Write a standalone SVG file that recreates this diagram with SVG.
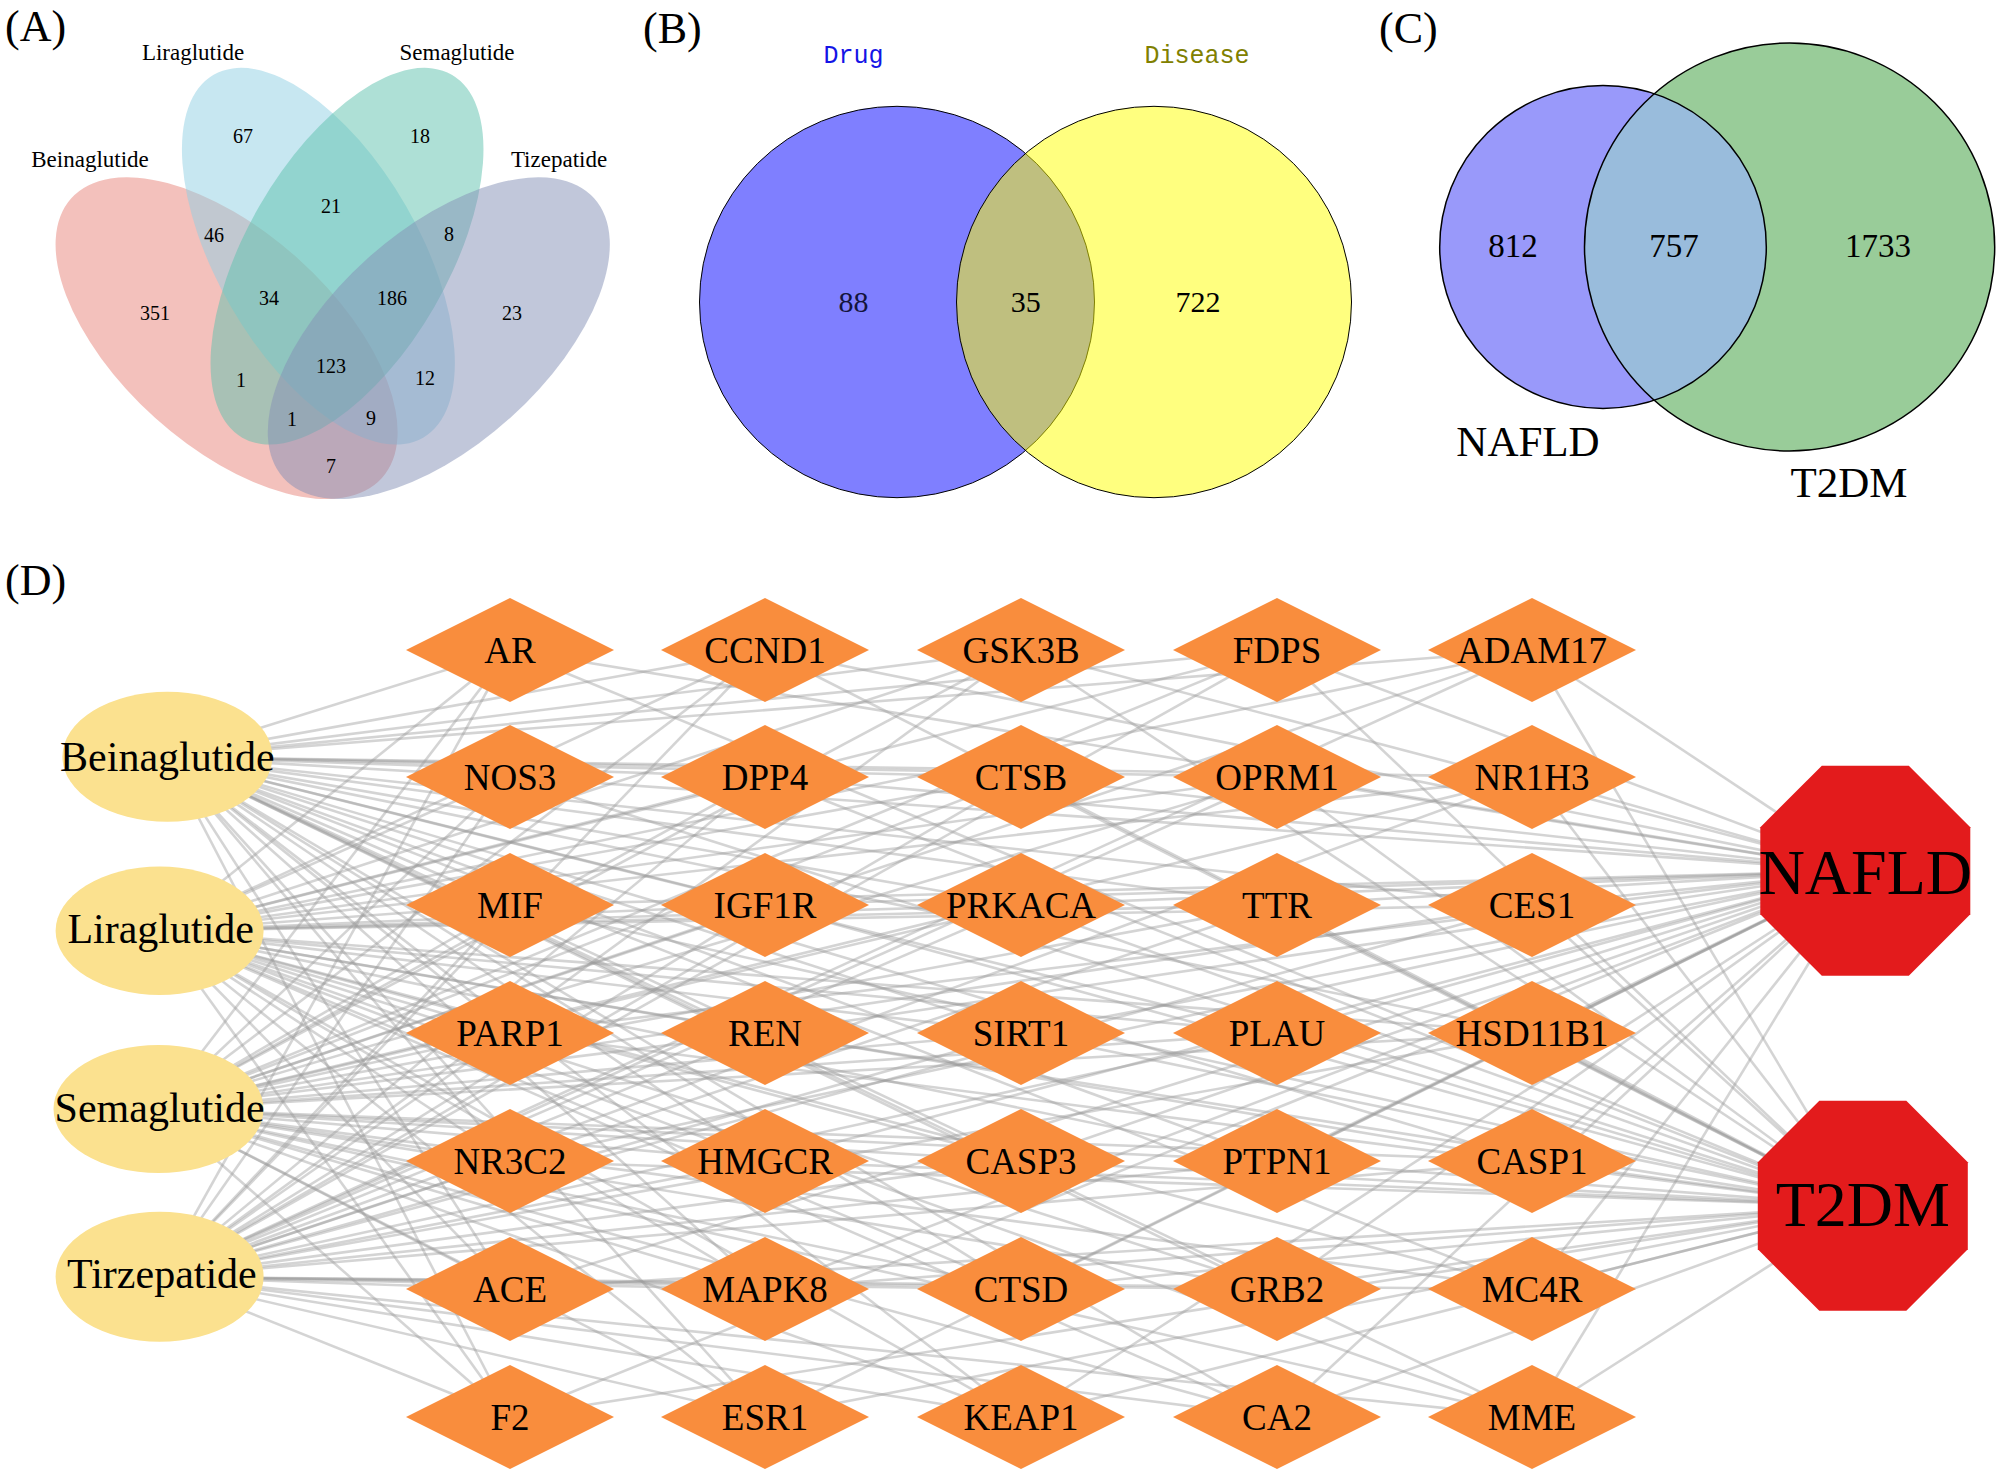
<svg xmlns="http://www.w3.org/2000/svg" width="2000" height="1475" viewBox="0 0 2000 1475">
<style>
text{font-family:"Liberation Serif","Times New Roman",serif;fill:#000}
.pl{font-size:44px}
.va{font-size:20px;text-anchor:middle}
.vl{font-size:23px;text-anchor:middle}
.bn{font-size:30px;text-anchor:middle}
.bl{font-family:"Liberation Mono","DejaVu Sans Mono",monospace;font-size:25px;text-anchor:middle}
.cn{font-size:33px;text-anchor:middle}
.cl{font-size:43px;text-anchor:middle}
.dia{fill:#F98D3D}
.dl{font-size:37px;text-anchor:middle}
.drug{fill:#FBE18F}
.drl{font-size:42px;text-anchor:middle}
.oct{fill:#E31B1C}
.ocl{font-size:64px;text-anchor:middle}
#edges line{stroke:#999;stroke-opacity:0.42;stroke-width:2.6}
</style>
<defs>
<polygon id="dmd" points="-104,0 0,-52 104,0 0,52"/>
<polygon id="octg" points="105,43.5 43.5,105 -43.5,105 -105,43.5 -105,-43.5 -43.5,-105 43.5,-105 105,-43.5"/>
<clipPath id="clipN"><ellipse cx="1603" cy="247" rx="163.3" ry="161.5"/></clipPath>
</defs>
<rect width="2000" height="1475" fill="#fff"/>

<!-- Panel A -->
<g id="panelA">
<text class="pl" x="5" y="41">(A)</text>
<g id="vennA">
<ellipse id="setBeinaglutide" cx="226.6" cy="338.2" rx="209" ry="107" transform="rotate(42 226.6 338.2)" fill="#E8837A" fill-opacity="0.5"/>
<ellipse id="setLiraglutide" cx="318.4" cy="256.2" rx="209.5" ry="101" transform="rotate(60 318.4 256.2)" fill="#8FD0E4" fill-opacity="0.5"/>
<ellipse id="setSemaglutide" cx="347" cy="256.2" rx="209.5" ry="101" transform="rotate(-60 347 256.2)" fill="#5EC2AE" fill-opacity="0.5"/>
<ellipse id="setTizepatide" cx="438.8" cy="338.2" rx="209" ry="107" transform="rotate(-42 438.8 338.2)" fill="#8390B6" fill-opacity="0.5"/>
</g>
<text class="vl" x="193" y="60">Liraglutide</text>
<text class="vl" x="457" y="60">Semaglutide</text>
<text class="vl" x="90" y="167">Beinaglutide</text>
<text class="vl" x="559" y="167">Tizepatide</text>
<text class="va" x="243" y="143">67</text>
<text class="va" x="420" y="143">18</text>
<text class="va" x="331" y="213">21</text>
<text class="va" x="214" y="242">46</text>
<text class="va" x="449" y="241">8</text>
<text class="va" x="269" y="305">34</text>
<text class="va" x="392" y="305">186</text>
<text class="va" x="155" y="320">351</text>
<text class="va" x="512" y="320">23</text>
<text class="va" x="331" y="373">123</text>
<text class="va" x="241" y="387">1</text>
<text class="va" x="425" y="385">12</text>
<text class="va" x="292" y="426">1</text>
<text class="va" x="371" y="425">9</text>
<text class="va" x="331" y="473">7</text>
</g>

<!-- Panel B -->
<g id="panelB">
<text class="pl" x="643" y="43">(B)</text>
<text class="bl" x="853.5" y="63" fill="#1010E0" style="fill:#1414E6">Drug</text>
<text class="bl" x="1197" y="63" style="fill:#808000">Disease</text>
<ellipse id="setDrug" cx="897" cy="302" rx="197.5" ry="195.7" fill="#0000FF" fill-opacity="0.5" stroke="#000" stroke-width="1"/>
<ellipse id="setDisease" cx="1154" cy="302" rx="197.5" ry="195.7" fill="#FFFF00" fill-opacity="0.5" stroke="#000" stroke-width="1"/>
<text class="bn" x="853.5" y="312" style="fill:#14143C">88</text>
<text class="bn" x="1025.7" y="312">35</text>
<text class="bn" x="1198" y="312">722</text>
</g>

<!-- Panel C -->
<g id="panelC">
<text class="pl" x="1379" y="43">(C)</text>
<ellipse cx="1789.6" cy="247" rx="205.1" ry="204" fill="#99CC99"/>
<ellipse cx="1603" cy="247" rx="163.3" ry="161.5" fill="#9999FA"/>
<ellipse cx="1789.6" cy="247" rx="205.1" ry="204" fill="#99BCDC" clip-path="url(#clipN)"/>
<ellipse id="setNAFLD" cx="1603" cy="247" rx="163.3" ry="161.5" fill="none" stroke="#000" stroke-width="1.5"/>
<ellipse id="setT2DM" cx="1789.6" cy="247" rx="205.1" ry="204" fill="none" stroke="#000" stroke-width="1.5"/>
<text class="cn" x="1513" y="257">812</text>
<text class="cn" x="1674" y="257">757</text>
<text class="cn" x="1878" y="257">1733</text>
<text class="cl" x="1528" y="456">NAFLD</text>
<text class="cl" x="1849" y="497">T2DM</text>
</g>

<!-- Panel D -->
<text class="pl" x="5" y="595">(D)</text>
<g id="edges">
<line x1="167" y1="757" x2="510" y2="650"/><line x1="167" y1="757" x2="765" y2="650"/><line x1="167" y1="757" x2="1021" y2="650"/><line x1="167" y1="757" x2="1277" y2="650"/><line x1="167" y1="757" x2="1532" y2="650"/>
<line x1="167" y1="757" x2="510" y2="777"/><line x1="167" y1="757" x2="765" y2="777"/><line x1="167" y1="757" x2="1021" y2="777"/><line x1="167" y1="757" x2="1277" y2="777"/><line x1="167" y1="757" x2="1532" y2="777"/>
<line x1="167" y1="757" x2="510" y2="905"/><line x1="167" y1="757" x2="765" y2="905"/><line x1="167" y1="757" x2="1021" y2="905"/><line x1="167" y1="757" x2="1277" y2="905"/><line x1="167" y1="757" x2="1532" y2="905"/>
<line x1="167" y1="757" x2="510" y2="1033"/><line x1="167" y1="757" x2="765" y2="1033"/><line x1="167" y1="757" x2="1021" y2="1033"/><line x1="167" y1="757" x2="1277" y2="1033"/><line x1="167" y1="757" x2="1532" y2="1033"/>
<line x1="167" y1="757" x2="510" y2="1161"/><line x1="167" y1="757" x2="765" y2="1161"/><line x1="167" y1="757" x2="1021" y2="1161"/><line x1="167" y1="757" x2="1277" y2="1161"/><line x1="167" y1="757" x2="1532" y2="1161"/>
<line x1="167" y1="757" x2="510" y2="1289"/><line x1="167" y1="757" x2="765" y2="1289"/><line x1="167" y1="757" x2="1021" y2="1289"/><line x1="167" y1="757" x2="1277" y2="1289"/><line x1="167" y1="757" x2="1532" y2="1289"/>
<line x1="167" y1="757" x2="510" y2="1417"/><line x1="167" y1="757" x2="765" y2="1417"/><line x1="167" y1="757" x2="1021" y2="1417"/><line x1="167" y1="757" x2="1277" y2="1417"/><line x1="167" y1="757" x2="1532" y2="1417"/>

<line x1="160" y1="931" x2="510" y2="650"/><line x1="160" y1="931" x2="765" y2="650"/><line x1="160" y1="931" x2="1021" y2="650"/><line x1="160" y1="931" x2="1277" y2="650"/><line x1="160" y1="931" x2="1532" y2="650"/>
<line x1="160" y1="931" x2="510" y2="777"/><line x1="160" y1="931" x2="765" y2="777"/><line x1="160" y1="931" x2="1021" y2="777"/><line x1="160" y1="931" x2="1277" y2="777"/><line x1="160" y1="931" x2="1532" y2="777"/>
<line x1="160" y1="931" x2="510" y2="905"/><line x1="160" y1="931" x2="765" y2="905"/><line x1="160" y1="931" x2="1021" y2="905"/><line x1="160" y1="931" x2="1277" y2="905"/><line x1="160" y1="931" x2="1532" y2="905"/>
<line x1="160" y1="931" x2="510" y2="1033"/><line x1="160" y1="931" x2="765" y2="1033"/><line x1="160" y1="931" x2="1021" y2="1033"/><line x1="160" y1="931" x2="1277" y2="1033"/><line x1="160" y1="931" x2="1532" y2="1033"/>
<line x1="160" y1="931" x2="510" y2="1161"/><line x1="160" y1="931" x2="765" y2="1161"/><line x1="160" y1="931" x2="1021" y2="1161"/><line x1="160" y1="931" x2="1277" y2="1161"/><line x1="160" y1="931" x2="1532" y2="1161"/>
<line x1="160" y1="931" x2="510" y2="1289"/><line x1="160" y1="931" x2="765" y2="1289"/><line x1="160" y1="931" x2="1021" y2="1289"/><line x1="160" y1="931" x2="1277" y2="1289"/><line x1="160" y1="931" x2="1532" y2="1289"/>
<line x1="160" y1="931" x2="510" y2="1417"/><line x1="160" y1="931" x2="765" y2="1417"/><line x1="160" y1="931" x2="1021" y2="1417"/><line x1="160" y1="931" x2="1277" y2="1417"/><line x1="160" y1="931" x2="1532" y2="1417"/>

<line x1="158" y1="1109" x2="510" y2="650"/><line x1="158" y1="1109" x2="765" y2="650"/><line x1="158" y1="1109" x2="1021" y2="650"/><line x1="158" y1="1109" x2="1277" y2="650"/><line x1="158" y1="1109" x2="1532" y2="650"/>
<line x1="158" y1="1109" x2="510" y2="777"/><line x1="158" y1="1109" x2="765" y2="777"/><line x1="158" y1="1109" x2="1021" y2="777"/><line x1="158" y1="1109" x2="1277" y2="777"/><line x1="158" y1="1109" x2="1532" y2="777"/>
<line x1="158" y1="1109" x2="510" y2="905"/><line x1="158" y1="1109" x2="765" y2="905"/><line x1="158" y1="1109" x2="1021" y2="905"/><line x1="158" y1="1109" x2="1277" y2="905"/><line x1="158" y1="1109" x2="1532" y2="905"/>
<line x1="158" y1="1109" x2="510" y2="1033"/><line x1="158" y1="1109" x2="765" y2="1033"/><line x1="158" y1="1109" x2="1021" y2="1033"/><line x1="158" y1="1109" x2="1277" y2="1033"/><line x1="158" y1="1109" x2="1532" y2="1033"/>
<line x1="158" y1="1109" x2="510" y2="1161"/><line x1="158" y1="1109" x2="765" y2="1161"/><line x1="158" y1="1109" x2="1021" y2="1161"/><line x1="158" y1="1109" x2="1277" y2="1161"/><line x1="158" y1="1109" x2="1532" y2="1161"/>
<line x1="158" y1="1109" x2="510" y2="1289"/><line x1="158" y1="1109" x2="765" y2="1289"/><line x1="158" y1="1109" x2="1021" y2="1289"/><line x1="158" y1="1109" x2="1277" y2="1289"/><line x1="158" y1="1109" x2="1532" y2="1289"/>
<line x1="158" y1="1109" x2="510" y2="1417"/><line x1="158" y1="1109" x2="765" y2="1417"/><line x1="158" y1="1109" x2="1021" y2="1417"/><line x1="158" y1="1109" x2="1277" y2="1417"/><line x1="158" y1="1109" x2="1532" y2="1417"/>

<line x1="160" y1="1277" x2="510" y2="650"/><line x1="160" y1="1277" x2="765" y2="650"/><line x1="160" y1="1277" x2="1021" y2="650"/><line x1="160" y1="1277" x2="1277" y2="650"/><line x1="160" y1="1277" x2="1532" y2="650"/>
<line x1="160" y1="1277" x2="510" y2="777"/><line x1="160" y1="1277" x2="765" y2="777"/><line x1="160" y1="1277" x2="1021" y2="777"/><line x1="160" y1="1277" x2="1277" y2="777"/><line x1="160" y1="1277" x2="1532" y2="777"/>
<line x1="160" y1="1277" x2="510" y2="905"/><line x1="160" y1="1277" x2="765" y2="905"/><line x1="160" y1="1277" x2="1021" y2="905"/><line x1="160" y1="1277" x2="1277" y2="905"/><line x1="160" y1="1277" x2="1532" y2="905"/>
<line x1="160" y1="1277" x2="510" y2="1033"/><line x1="160" y1="1277" x2="765" y2="1033"/><line x1="160" y1="1277" x2="1021" y2="1033"/><line x1="160" y1="1277" x2="1277" y2="1033"/><line x1="160" y1="1277" x2="1532" y2="1033"/>
<line x1="160" y1="1277" x2="510" y2="1161"/><line x1="160" y1="1277" x2="765" y2="1161"/><line x1="160" y1="1277" x2="1021" y2="1161"/><line x1="160" y1="1277" x2="1277" y2="1161"/><line x1="160" y1="1277" x2="1532" y2="1161"/>
<line x1="160" y1="1277" x2="510" y2="1289"/><line x1="160" y1="1277" x2="765" y2="1289"/><line x1="160" y1="1277" x2="1021" y2="1289"/><line x1="160" y1="1277" x2="1277" y2="1289"/><line x1="160" y1="1277" x2="1532" y2="1289"/>
<line x1="160" y1="1277" x2="510" y2="1417"/><line x1="160" y1="1277" x2="765" y2="1417"/><line x1="160" y1="1277" x2="1021" y2="1417"/><line x1="160" y1="1277" x2="1277" y2="1417"/><line x1="160" y1="1277" x2="1532" y2="1417"/>

<line x1="1865" y1="871" x2="510" y2="650"/><line x1="1865" y1="871" x2="765" y2="650"/><line x1="1865" y1="871" x2="1021" y2="650"/><line x1="1865" y1="871" x2="1277" y2="650"/><line x1="1865" y1="871" x2="1532" y2="650"/>
<line x1="1865" y1="871" x2="510" y2="777"/><line x1="1865" y1="871" x2="765" y2="777"/><line x1="1865" y1="871" x2="1021" y2="777"/><line x1="1865" y1="871" x2="1277" y2="777"/><line x1="1865" y1="871" x2="1532" y2="777"/>
<line x1="1865" y1="871" x2="510" y2="905"/><line x1="1865" y1="871" x2="765" y2="905"/><line x1="1865" y1="871" x2="1021" y2="905"/><line x1="1865" y1="871" x2="1277" y2="905"/><line x1="1865" y1="871" x2="1532" y2="905"/>
<line x1="1865" y1="871" x2="510" y2="1033"/><line x1="1865" y1="871" x2="765" y2="1033"/><line x1="1865" y1="871" x2="1021" y2="1033"/><line x1="1865" y1="871" x2="1277" y2="1033"/><line x1="1865" y1="871" x2="1532" y2="1033"/>
<line x1="1865" y1="871" x2="510" y2="1161"/><line x1="1865" y1="871" x2="765" y2="1161"/><line x1="1865" y1="871" x2="1021" y2="1161"/><line x1="1865" y1="871" x2="1277" y2="1161"/><line x1="1865" y1="871" x2="1532" y2="1161"/>
<line x1="1865" y1="871" x2="510" y2="1289"/><line x1="1865" y1="871" x2="765" y2="1289"/><line x1="1865" y1="871" x2="1021" y2="1289"/><line x1="1865" y1="871" x2="1277" y2="1289"/><line x1="1865" y1="871" x2="1532" y2="1289"/>
<line x1="1865" y1="871" x2="510" y2="1417"/><line x1="1865" y1="871" x2="765" y2="1417"/><line x1="1865" y1="871" x2="1021" y2="1417"/><line x1="1865" y1="871" x2="1277" y2="1417"/><line x1="1865" y1="871" x2="1532" y2="1417"/>

<line x1="1863" y1="1206" x2="510" y2="650"/><line x1="1863" y1="1206" x2="765" y2="650"/><line x1="1863" y1="1206" x2="1021" y2="650"/><line x1="1863" y1="1206" x2="1277" y2="650"/><line x1="1863" y1="1206" x2="1532" y2="650"/>
<line x1="1863" y1="1206" x2="510" y2="777"/><line x1="1863" y1="1206" x2="765" y2="777"/><line x1="1863" y1="1206" x2="1021" y2="777"/><line x1="1863" y1="1206" x2="1277" y2="777"/><line x1="1863" y1="1206" x2="1532" y2="777"/>
<line x1="1863" y1="1206" x2="510" y2="905"/><line x1="1863" y1="1206" x2="765" y2="905"/><line x1="1863" y1="1206" x2="1021" y2="905"/><line x1="1863" y1="1206" x2="1277" y2="905"/><line x1="1863" y1="1206" x2="1532" y2="905"/>
<line x1="1863" y1="1206" x2="510" y2="1033"/><line x1="1863" y1="1206" x2="765" y2="1033"/><line x1="1863" y1="1206" x2="1021" y2="1033"/><line x1="1863" y1="1206" x2="1277" y2="1033"/><line x1="1863" y1="1206" x2="1532" y2="1033"/>
<line x1="1863" y1="1206" x2="510" y2="1161"/><line x1="1863" y1="1206" x2="765" y2="1161"/><line x1="1863" y1="1206" x2="1021" y2="1161"/><line x1="1863" y1="1206" x2="1277" y2="1161"/><line x1="1863" y1="1206" x2="1532" y2="1161"/>
<line x1="1863" y1="1206" x2="510" y2="1289"/><line x1="1863" y1="1206" x2="765" y2="1289"/><line x1="1863" y1="1206" x2="1021" y2="1289"/><line x1="1863" y1="1206" x2="1277" y2="1289"/><line x1="1863" y1="1206" x2="1532" y2="1289"/>
<line x1="1863" y1="1206" x2="510" y2="1417"/><line x1="1863" y1="1206" x2="765" y2="1417"/><line x1="1863" y1="1206" x2="1021" y2="1417"/><line x1="1863" y1="1206" x2="1277" y2="1417"/><line x1="1863" y1="1206" x2="1532" y2="1417"/>
</g>

<g id="drugs">
<g id="n-Beinaglutide"><ellipse class="drug" cx="167.4" cy="756.7" rx="105" ry="65"/><text class="drl" x="167.4" y="771">Beinaglutide</text></g>
<g id="n-Liraglutide"><ellipse class="drug" cx="159.6" cy="930.8" rx="104" ry="64.2"/><text class="drl" x="160.7" y="943">Liraglutide</text></g>
<g id="n-Semaglutide"><ellipse class="drug" cx="158.5" cy="1109" rx="105" ry="64"/><text class="drl" x="159.6" y="1122">Semaglutide</text></g>
<g id="n-Tirzepatide"><ellipse class="drug" cx="159.6" cy="1276.7" rx="104" ry="65"/><text class="drl" x="161.9" y="1288">Tirzepatide</text></g>
</g>

<g id="targets">
<g id="n-AR" transform="translate(510 650)"><use href="#dmd" class="dia"/><text class="dl" y="12.5">AR</text></g>
<g id="n-CCND1" transform="translate(765 650)"><use href="#dmd" class="dia"/><text class="dl" y="12.5">CCND1</text></g>
<g id="n-GSK3B" transform="translate(1021 650)"><use href="#dmd" class="dia"/><text class="dl" y="12.5">GSK3B</text></g>
<g id="n-FDPS" transform="translate(1277 650)"><use href="#dmd" class="dia"/><text class="dl" y="12.5">FDPS</text></g>
<g id="n-ADAM17" transform="translate(1532 650)"><use href="#dmd" class="dia"/><text class="dl" y="12.5">ADAM17</text></g>

<g id="n-NOS3" transform="translate(510 777)"><use href="#dmd" class="dia"/><text class="dl" y="12.5">NOS3</text></g>
<g id="n-DPP4" transform="translate(765 777)"><use href="#dmd" class="dia"/><text class="dl" y="12.5">DPP4</text></g>
<g id="n-CTSB" transform="translate(1021 777)"><use href="#dmd" class="dia"/><text class="dl" y="12.5">CTSB</text></g>
<g id="n-OPRM1" transform="translate(1277 777)"><use href="#dmd" class="dia"/><text class="dl" y="12.5">OPRM1</text></g>
<g id="n-NR1H3" transform="translate(1532 777)"><use href="#dmd" class="dia"/><text class="dl" y="12.5">NR1H3</text></g>

<g id="n-MIF" transform="translate(510 905)"><use href="#dmd" class="dia"/><text class="dl" y="12.5">MIF</text></g>
<g id="n-IGF1R" transform="translate(765 905)"><use href="#dmd" class="dia"/><text class="dl" y="12.5">IGF1R</text></g>
<g id="n-PRKACA" transform="translate(1021 905)"><use href="#dmd" class="dia"/><text class="dl" y="12.5">PRKACA</text></g>
<g id="n-TTR" transform="translate(1277 905)"><use href="#dmd" class="dia"/><text class="dl" y="12.5">TTR</text></g>
<g id="n-CES1" transform="translate(1532 905)"><use href="#dmd" class="dia"/><text class="dl" y="12.5">CES1</text></g>

<g id="n-PARP1" transform="translate(510 1033)"><use href="#dmd" class="dia"/><text class="dl" y="12.5">PARP1</text></g>
<g id="n-REN" transform="translate(765 1033)"><use href="#dmd" class="dia"/><text class="dl" y="12.5">REN</text></g>
<g id="n-SIRT1" transform="translate(1021 1033)"><use href="#dmd" class="dia"/><text class="dl" y="12.5">SIRT1</text></g>
<g id="n-PLAU" transform="translate(1277 1033)"><use href="#dmd" class="dia"/><text class="dl" y="12.5">PLAU</text></g>
<g id="n-HSD11B1" transform="translate(1532 1033)"><use href="#dmd" class="dia"/><text class="dl" y="12.5">HSD11B1</text></g>

<g id="n-NR3C2" transform="translate(510 1161)"><use href="#dmd" class="dia"/><text class="dl" y="12.5">NR3C2</text></g>
<g id="n-HMGCR" transform="translate(765 1161)"><use href="#dmd" class="dia"/><text class="dl" y="12.5">HMGCR</text></g>
<g id="n-CASP3" transform="translate(1021 1161)"><use href="#dmd" class="dia"/><text class="dl" y="12.5">CASP3</text></g>
<g id="n-PTPN1" transform="translate(1277 1161)"><use href="#dmd" class="dia"/><text class="dl" y="12.5">PTPN1</text></g>
<g id="n-CASP1" transform="translate(1532 1161)"><use href="#dmd" class="dia"/><text class="dl" y="12.5">CASP1</text></g>

<g id="n-ACE" transform="translate(510 1289)"><use href="#dmd" class="dia"/><text class="dl" y="12.5">ACE</text></g>
<g id="n-MAPK8" transform="translate(765 1289)"><use href="#dmd" class="dia"/><text class="dl" y="12.5">MAPK8</text></g>
<g id="n-CTSD" transform="translate(1021 1289)"><use href="#dmd" class="dia"/><text class="dl" y="12.5">CTSD</text></g>
<g id="n-GRB2" transform="translate(1277 1289)"><use href="#dmd" class="dia"/><text class="dl" y="12.5">GRB2</text></g>
<g id="n-MC4R" transform="translate(1532 1289)"><use href="#dmd" class="dia"/><text class="dl" y="12.5">MC4R</text></g>

<g id="n-F2" transform="translate(510 1417)"><use href="#dmd" class="dia"/><text class="dl" y="12.5">F2</text></g>
<g id="n-ESR1" transform="translate(765 1417)"><use href="#dmd" class="dia"/><text class="dl" y="12.5">ESR1</text></g>
<g id="n-KEAP1" transform="translate(1021 1417)"><use href="#dmd" class="dia"/><text class="dl" y="12.5">KEAP1</text></g>
<g id="n-CA2" transform="translate(1277 1417)"><use href="#dmd" class="dia"/><text class="dl" y="12.5">CA2</text></g>
<g id="n-MME" transform="translate(1532 1417)"><use href="#dmd" class="dia"/><text class="dl" y="12.5">MME</text></g>
</g>

<g id="diseases">
<g id="n-NAFLD" transform="translate(1865.3 870.8)"><use href="#octg" class="oct"/><text class="ocl" y="23">NAFLD</text></g>
<g id="n-T2DM" transform="translate(1862.8 1205.8)"><use href="#octg" class="oct"/><text class="ocl" y="20">T2DM</text></g>
</g>
</svg>
